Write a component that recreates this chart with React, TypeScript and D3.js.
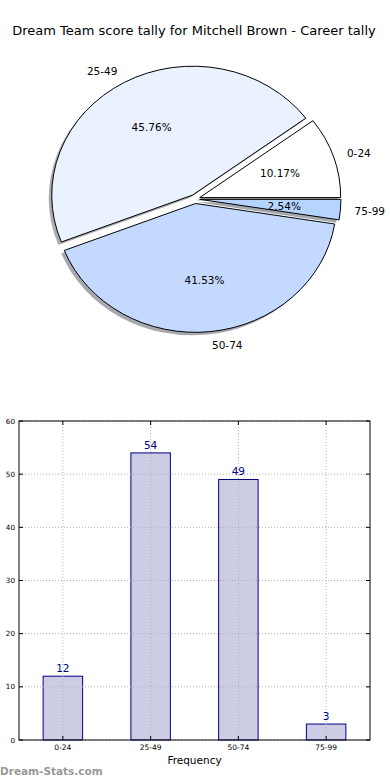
import React from "react";
import * as d3 from "d3";

const categories = ["0-24", "25-49", "50-74", "75-99"];
const counts = [12, 54, 49, 3];
const pieColors = ["#ffffff", "#eaf2ff", "#c4d9ff", "#b5d5ff"];
const yTicks = [0, 10, 20, 30, 40, 50, 60];

const W = 390;
const H = 780;
const font = "'DejaVu Sans', sans-serif";

// pie geometry (matplotlib style, not equal aspect -> ellipse)
const cx = 195;
const cy = 199;
const rx = 141;
const ry = 129;
const explode = 0.035;

// bar chart box
const box = { left: 19, right: 370, top: 421, bottom: 740 };

function Pie() {
  const total = d3.sum(counts);
  // matplotlib starts at 3 o'clock and goes counterclockwise
  const pie = d3
    .pie<number>()
    .sort(null)
    .startAngle(Math.PI / 2)
    .endAngle(Math.PI / 2 - 2 * Math.PI);
  const arcs = pie(counts);
  const arc = d3.arc<d3.PieArcDatum<number>>().innerRadius(0).outerRadius(1);

  return (
    <g>
      {arcs.map((a, i) => {
        const mid = (a.startAngle + a.endAngle) / 2;
        const ux = Math.sin(mid);
        const uy = -Math.cos(mid);
        const ox = cx + explode * rx * ux;
        const oy = cy + explode * ry * uy;
        const c = d3.rgb(pieColors[i]);
        const sc = d3.rgb(c.r * 0.3, c.g * 0.3, c.b * 0.3).toString();
        return (
          <path
            key={"s" + i}
            d={arc(a) || ""}
            transform={`translate(${ox - 3},${oy + 3}) scale(${rx},${ry})`}
            fill={sc}
            opacity={0.45}
          />
        );
      })}
      {arcs.map((a, i) => {
        const mid = (a.startAngle + a.endAngle) / 2;
        const ux = Math.sin(mid);
        const uy = -Math.cos(mid);
        const ox = cx + explode * rx * ux;
        const oy = cy + explode * ry * uy;
        const pct = ((counts[i] / total) * 100).toFixed(2) + "%";
        const lx = ox + 1.1 * rx * ux;
        const ly = oy + 1.1 * ry * uy;
        const px = ox + 0.6 * rx * ux;
        const py = oy + 0.6 * ry * uy;
        return (
          <g key={"p" + i}>
            <path
              d={arc(a) || ""}
              transform={`translate(${ox},${oy}) scale(${rx},${ry})`}
              fill={pieColors[i]}
              stroke="#000"
              strokeWidth={1}
              vectorEffect="non-scaling-stroke"
              strokeLinejoin="round"
            />
            <text
              x={px}
              y={py}
              textAnchor="middle"
              dominantBaseline="central"
              fontSize={10.5}
              fontFamily={font}
            >
              {pct}
            </text>
            <text
              x={lx}
              y={ly}
              textAnchor={ux < 0 ? "end" : "start"}
              dominantBaseline="central"
              fontSize={10.5}
              fontFamily={font}
            >
              {categories[i]}
            </text>
          </g>
        );
      })}
    </g>
  );
}

function Bars() {
  const x = d3
    .scaleBand<string>()
    .domain(categories)
    .range([box.left, box.right])
    .paddingInner(0.55)
    .paddingOuter(0.275);
  const y = d3.scaleLinear().domain([0, 60]).range([box.bottom, box.top]);
  const cxOf = (c: string) => (x(c) || 0) + x.bandwidth() / 2;

  return (
    <g>
      {counts.map((v, i) => (
        <rect
          key={"b" + i}
          x={x(categories[i])}
          y={y(v)}
          width={x.bandwidth()}
          height={y(0) - y(v)}
          fill="#ccccE5"
          stroke="#000080"
          strokeWidth={1}
        />
      ))}
      {/* grid */}
      {yTicks.map((t) => (
        <line
          key={"gy" + t}
          x1={box.left}
          x2={box.right}
          y1={y(t)}
          y2={y(t)}
          stroke="#b0b0b0"
          strokeDasharray="1,2"
        />
      ))}
      {categories.map((c) => (
        <line
          key={"gx" + c}
          x1={cxOf(c)}
          x2={cxOf(c)}
          y1={box.top}
          y2={box.bottom}
          stroke="#b0b0b0"
          strokeDasharray="1,2"
        />
      ))}
      {/* ticks */}
      {yTicks.map((t) => (
        <g key={"ty" + t}>
          <line x1={box.left} x2={box.left + 4} y1={y(t)} y2={y(t)} stroke="#000" />
          <line x1={box.right - 4} x2={box.right} y1={y(t)} y2={y(t)} stroke="#000" />
          <text
            x={box.left - 4}
            y={y(t)}
            textAnchor="end"
            dominantBaseline="central"
            fontSize={7.2}
            fontFamily={font}
          >
            {t}
          </text>
        </g>
      ))}
      {categories.map((c) => (
        <g key={"tx" + c}>
          <line x1={cxOf(c)} x2={cxOf(c)} y1={box.bottom} y2={box.bottom - 4} stroke="#000" />
          <line x1={cxOf(c)} x2={cxOf(c)} y1={box.top} y2={box.top + 4} stroke="#000" />
          <text x={cxOf(c)} y={box.bottom + 10} textAnchor="middle" fontSize={7.5} fontFamily={font}>
            {c}
          </text>
        </g>
      ))}
      <rect
        x={box.left}
        y={box.top}
        width={box.right - box.left}
        height={box.bottom - box.top}
        fill="none"
        stroke="#000"
        strokeWidth={1}
      />
      {counts.map((v, i) => (
        <text
          key={"v" + i}
          x={cxOf(categories[i])}
          y={y(v) - 4}
          textAnchor="middle"
          fontSize={10.5}
          fontFamily={font}
          fill="#000080"
        >
          {v}
        </text>
      ))}
      <text x={(box.left + box.right) / 2} y={764} textAnchor="middle" fontSize={10.5} fontFamily={font}>
        Frequency
      </text>
    </g>
  );
}

export default function App() {
  return (
    <svg
      width={W}
      height={H}
      style={{ position: "absolute", left: 0, top: 0, background: "#fff" }}
    >
      <text x={194} y={35} textAnchor="middle" fontSize={13} fontFamily={font}>
        Dream Team score tally for Mitchell Brown - Career tally
      </text>
      <Pie />
      <Bars />
      <text x={0} y={775} fontSize={10.5} fontWeight="bold" fontFamily={font} fill="#999">
        Dream-Stats.com
      </text>
    </svg>
  );
}
